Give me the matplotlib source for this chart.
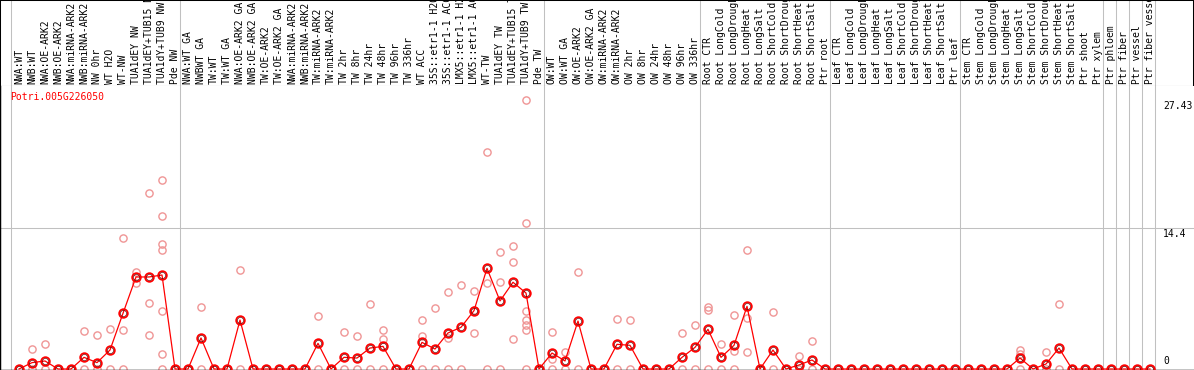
import matplotlib
matplotlib.use("Agg")
import matplotlib.pyplot as plt

# sample names (column headers)
labels = [
    "NWA:WT", "NWB:WT", "NWA:OE-ARK2", "NWB:OE-ARK2", "NWA:miRNA-ARK2", "NWB:miRNA-ARK2",
    "NW 0hr", "WT H2O", "WT-NW", "TUA1dEY NW", "TUA1dEY+TUB15 NW", "TUA1dY+TUB9 NW", "Pde NW",
    "NWA:WT GA", "NWBWT GA", "TW:WT", "TW:WT GA", "NWA:OE-ARK2 GA", "NWB:OE-ARK2 GA",
    "TW:OE-ARK2", "TW:OE-ARK2 GA", "NWA:miRNA-ARK2", "NWB:miRNA-ARK2", "TW:miRNA-ARK2",
    "TW:miRNA-ARK2", "TW 2hr", "TW 8hr", "TW 24hr", "TW 48hr", "TW 96hr", "TW 336hr", "WT ACC",
    "35S::etr1-1 H2O", "35S::etr1-1 ACC", "LMX5::etr1-1 H2O", "LMX5::etr1-1 ACC", "WT-TW",
    "TUA1dEY TW", "TUA1dEY+TUB15 TW", "TUA1dY+TUB9 TW", "Pde TW",
    "OW:WT", "OW:WT GA", "OW:OE-ARK2", "OW:OE-ARK2 GA", "OW:miRNA-ARK2", "OW:miRNA-ARK2",
    "OW 2hr", "OW 8hr", "OW 24hr", "OW 48hr", "OW 96hr", "OW 336hr",
    "Root CTR", "Root LongCold", "Root LongDrought", "Root LongHeat", "Root LongSalt",
    "Root ShortCold", "Root ShortDrought", "Root ShortHeat", "Root ShortSalt", "Ptr root",
    "Leaf CTR", "Leaf LongCold", "Leaf LongDrought", "Leaf LongHeat", "Leaf LongSalt",
    "Leaf ShortCold", "Leaf ShortDrought", "Leaf ShortHeat", "Leaf ShortSalt", "Ptr leaf",
    "Stem CTR", "Stem LongCold", "Stem LongDrought", "Stem LongHeat", "Stem LongSalt",
    "Stem ShortCold", "Stem ShortDrought", "Stem ShortHeat", "Stem ShortSalt", "Ptr shoot",
    "Ptr xylem", "Ptr phloem", "Ptr fiber", "Ptr vessel", "Ptr fiber vessel",
]

# mean expression per sample
means = [
    0, 0.65, 0.82, 0, 0, 1.19, 0.65, 1.94, 5.69, 9.40, 9.40, 9.6, 0,
    0, 3.17, 0, 0, 5.0, 0, 0, 0, 0,
    0, 2.62, 0, 1.19, 1.12, 2.14, 2.31, 0, 0, 2.72, 2.04, 3.68, 4.26, 5.96,
    10.28, 6.95, 8.86, 7.76, 0, 1.63, 0.82, 4.9, 0,
    0, 2.52, 2.42, 0, 0, 0, 1.19, 2.21, 4.05, 1.19, 2.42, 6.4, 0, 1.94, 0, 0.41, 0.92, 0,
    0, 0, 0, 0, 0, 0, 0, 0, 0, 0, 0, 0, 0, 0,
    1.12, 0, 0.51, 2.14, 0, 0, 0, 0, 0, 0, 0,
]

# replicate values per sample
reps = [
    [0], [2.04, 0], [2.55, 0], [0], [0], [3.88, 0], [3.44, 0], [4.08, 0],
    [13.35, 3.98, 0], [9.91, 8.82], [17.98, 6.71, 3.44],
    [19.3, 15.6, 12.77, 12.2, 5.89, 1.5, 0], [0],
    [0], [6.33, 0], [0], [0], [10.08, 0], [0], [0], [0], [0],
    [0], [5.38, 0], [0], [3.78, 0], [3.34, 0], [6.6, 0], [3.98, 3.06, 0], [0], [0],
    [4.97, 3.37, 0], [6.2, 0], [7.83, 3.2, 0], [8.58, 0], [7.97, 6.03, 3.68],
    [22.13, 8.75, 0], [11.92, 8.86, 0], [12.53, 10.9, 3.06],
    [27.43, 14.88, 5.89, 5.0, 4.46, 3.95, 0], [0], [3.75, 1.05, 0], [1.74, 0], [9.9, 0], [0],
    [0], [5.07, 0], [4.97, 0], [0], [0], [0], [3.68, 0], [4.46, 0], [6.37, 6.03, 0],
    [2.52, 0], [5.48, 1.87, 0], [12.12, 5.24, 1.7], [0], [5.79, 0], [0], [1.33, 0], [2.86, 0], [0],
    [0], [0], [0], [0], [0], [0], [0], [0], [0], [0], [0], [0], [0], [0],
    [1.94, 1.53, 0], [0], [1.7, 0], [6.6, 0], [0], [0], [0], [0], [0], [0], [0],
]

gene = "Potri.005G226050"
ytick_vals = [27.43, 14.4, 0]
ytick_text = ["27.43", "14.4", "0"]
group_ends = [12, 40, 52, 62, 72, 83, 84, 85, 86, 87]

W, H = 1194, 370
HEAD = 86
fig = plt.figure(figsize=(W / 100, H / 100), dpi=100)

# pixel -> column index helper
def px(x):
    return (x - 19) / 13.0

xlim = (px(0), px(W))
mono = "DejaVu Sans Mono"
grey = "#c0c0c0"
lw = 0.75

# header with rotated sample names
hax = fig.add_axes([0, (H - HEAD) / H, (W - 1.5) / W, HEAD / H])
hax.set_xlim(px(0), px(W - 1.5))
hax.set_ylim(0, HEAD)
hax.set_xticks([])
hax.set_yticks([])
for s in hax.spines.values():
    s.set_color("black")
    s.set_linewidth(lw)
for i, lab in enumerate(labels):
    hax.text(i, 2, lab, rotation=90, ha="center", va="bottom",
             family=mono, fontsize=7.0, color="black", clip_on=False)

# main plot area
ax = fig.add_axes([0, 0, 1, (H - HEAD) / H])
ax.set_xlim(*xlim)
ybot = -1.0 / 9.79
ytop = (H - HEAD - 1) / 9.79
ax.set_ylim(ybot, ytop)
ax.set_xticks([])
ax.set_yticks([])
for side in ["top", "right"]:
    ax.spines[side].set_visible(False)
for side in ["left", "bottom"]:
    ax.spines[side].set_color("black")
    ax.spines[side].set_linewidth(lw * 1.4)

ax.axhline(14.4, color=grey, lw=lw, zorder=1)

seps = [px(11)] + [px(19 + 13 * (b + 0.5) - 1.5) for b in group_ends]
for s in seps:
    ax.axvline(s, color=grey, lw=lw, zorder=1)
    hax.axvline(s, color=grey, lw=lw, zorder=1)

# replicate points
for i, vals in enumerate(reps):
    ax.plot([i] * len(vals), vals, linestyle="none", marker="o", ms=5.2,
            mfc="none", mec="#ef9595", mew=1.0, zorder=2, clip_on=False)

# mean line
xs = list(range(len(means)))
ax.plot(xs, means, color="red", lw=0.9, zorder=3, clip_on=False)
ax.plot(xs, means, linestyle="none", marker="o", ms=6.2, mfc="none",
        mec="red", mew=1.3, zorder=4, clip_on=False)
ax.plot(xs, means, linestyle="none", marker="o", ms=4.4, mfc="none",
        mec="#5a0000", mew=0.45, zorder=5, clip_on=False)

ax.text(px(10), 28.9 - (97 - HEAD) / 9.79, gene, color="red", family=mono,
        fontsize=7.0, ha="left", va="center")

for v, t in zip(ytick_vals, ytick_text):
    if v == 0:
        ax.text(px(1163), v + 0.35, t, family=mono, fontsize=7.0, ha="left", va="bottom")
    else:
        ax.text(px(1163), v - 0.1, t, family=mono, fontsize=7.0, ha="left", va="top")

fig.savefig("out.png", dpi=100)
